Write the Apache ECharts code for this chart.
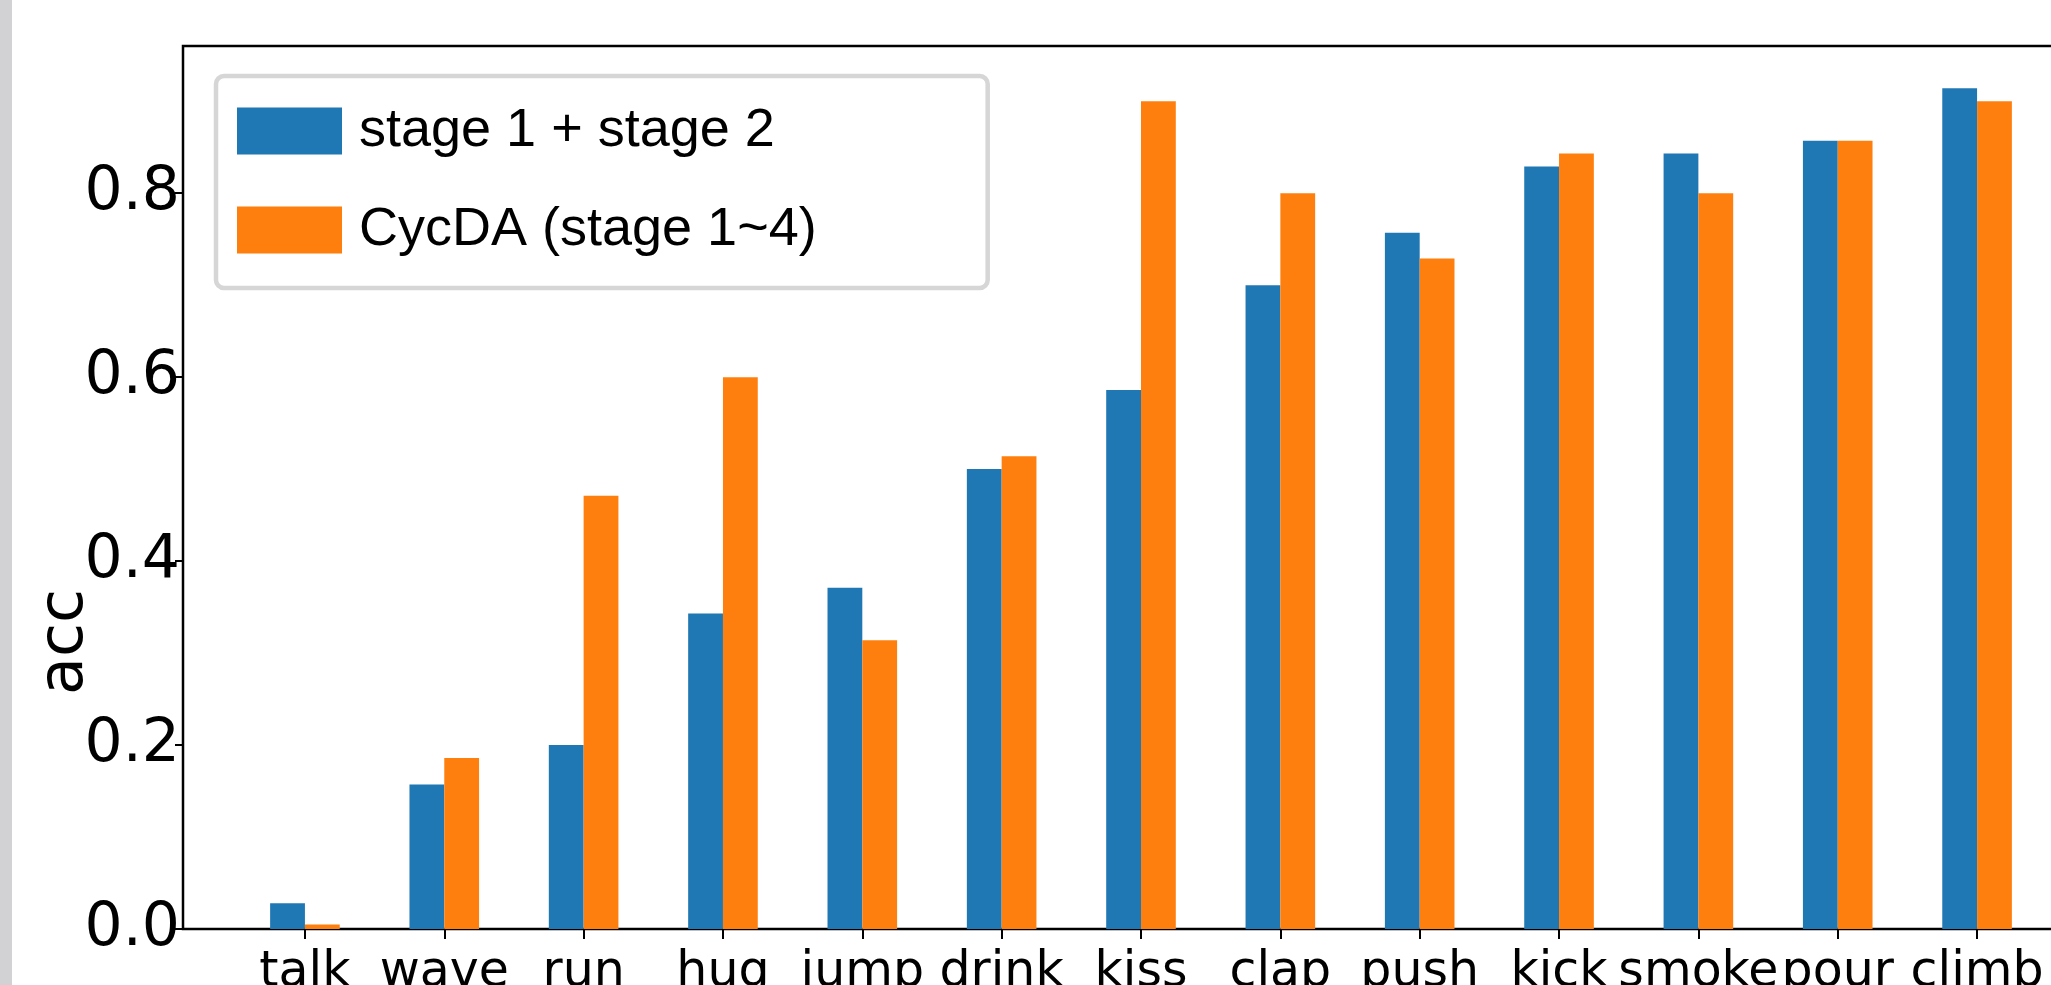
<!DOCTYPE html>
<html>
<head>
<meta charset="utf-8">
<title>acc per class</title>
<script src="https://cdn.jsdelivr.net/npm/echarts@6/dist/echarts.min.js"></script>
<style>
    html, body { margin: 0; padding: 0; background: #fff; overflow: hidden; }
    #container { width: 2051px; height: 985px; }
</style>
</head>
<body>
<div id="container"></div>
<script>
    // 类别
    let categories = ['talk', 'wave', 'run', 'hug', 'jump', 'drink', 'kiss', 'clap', 'push', 'kick', 'smoke', 'pour', 'climb'];
    // stage 1 + stage 2
    let baseAcc = [0.028, 0.157, 0.200, 0.343, 0.371, 0.500, 0.586, 0.700, 0.757, 0.829, 0.843, 0.857, 0.914];
    // CycDA (stage 1~4)
    let cycdaAcc = [0.005, 0.186, 0.471, 0.600, 0.314, 0.514, 0.900, 0.800, 0.729, 0.843, 0.800, 0.857, 0.900];
    let yTicks = [0, 0.2, 0.4, 0.6, 0.8];
    let seriesNames = ['stage 1 + stage 2', 'CycDA (stage 1~4)'];

    let tickFont = 'DejaVu Sans';

    function toPairs(values) {
        return values.map(function(v, i) { return [i, v]; });
    }

    let dom = document.getElementById('container');
    let myChart = echarts.init(dom, null, { renderer: 'canvas' });
    let xIndex = categories.map(function(c, i) { return i; });

    let option = {
        animation: false,
        backgroundColor: '#ffffff',
        grid: {
            left: 183,
            top: 46,
            right: -48,
            bottom: 56,
            containLabel: false,
            outerBoundsMode: 'none',
            show: true,
            borderColor: '#000',
            borderWidth: 2.5,
            backgroundColor: 'transparent'
        },
        legend: {
            orient: 'vertical',
            left: 216,
            top: 76,
            padding: [28, 171, 31, 21],
            itemGap: 45,
            itemWidth: 105,
            itemHeight: 47,
            icon: 'rect',
            backgroundColor: '#fff',
            borderColor: '#d6d6d6',
            borderWidth: 4.5,
            borderRadius: 8,
            textStyle: {
                fontFamily: 'Liberation Sans',
                fontSize: 54,
                color: '#000',
                padding: [0, 0, 0, 12]
            },
            data: seriesNames
        },
        xAxis: {
            type: 'value',
            min: -0.875,
            max: 12.875,
            axisLine: { show: false, onZero: false },
            splitLine: { show: false },
            axisTick: {
                show: true,
                customValues: xIndex,
                length: 10,
                lineStyle: { color: '#000', width: 2 }
            },
            axisLabel: {
                customValues: xIndex,
                hideOverlap: false,
                showMinLabel: true,
                showMaxLabel: true,
                margin: 20,
                fontFamily: tickFont,
                fontSize: 49,
                color: '#000',
                formatter: function(v) { return categories[Math.round(v)]; }
            }
        },
        yAxis: {
            type: 'value',
            min: 0,
            max: 0.96,
            axisLine: { show: false, onZero: false },
            splitLine: { show: false },
            axisTick: {
                show: true,
                customValues: yTicks,
                length: 8,
                lineStyle: { color: '#000', width: 2 }
            },
            axisLabel: {
                customValues: yTicks,
                margin: 3,
                fontFamily: tickFont,
                fontSize: 60,
                color: '#000',
                formatter: function(v) { return v.toFixed(1); }
            }
        },
        graphic: [{
            type: 'rect',
            left: 0,
            top: 0,
            shape: { width: 12, height: 985 },
            style: { fill: '#d2d2d5' }
        }, {
            type: 'text',
            x: 66,
            y: 642,
            rotation: Math.PI / 2,
            style: {
                text: 'acc',
                fontFamily: tickFont,
                fontSize: 62,
                fill: '#000',
                align: 'center',
                verticalAlign: 'middle'
            }
        }],
        series: [{
            name: seriesNames[0],
            type: 'bar',
            barWidth: 34.8,
            barGap: '0%',
            itemStyle: { color: '#1f77b4' },
            data: toPairs(baseAcc)
        }, {
            name: seriesNames[1],
            type: 'bar',
            barWidth: 34.8,
            barGap: '0%',
            itemStyle: { color: '#ff7f0e' },
            data: toPairs(cycdaAcc)
        }]
    };

    if (option && typeof option === "object") {
        myChart.setOption(option, true);
    }
</script>
</body>
</html>
